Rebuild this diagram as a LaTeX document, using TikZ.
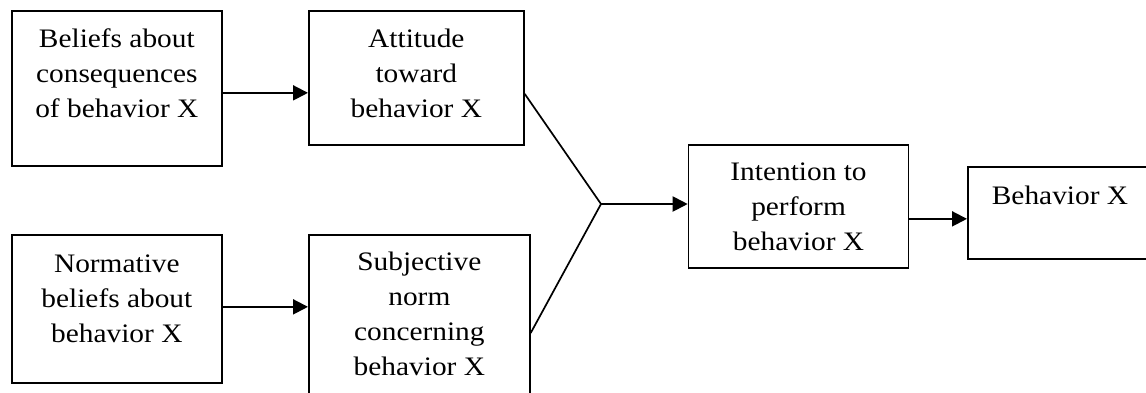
\documentclass[tikz,border=0pt]{standalone}
\usepackage{fontspec}
\setmainfont{Liberation Serif}[FakeStretch=1.1]
\usetikzlibrary{arrows.meta,calc}
\tikzset{
  box/.style={draw, line width=1.7pt, rectangle, inner sep=0pt, anchor=north west},
  txt/.style={align=center, inner sep=0pt, anchor=base, font=\fontsize{26.7pt}{35pt}\selectfont},
  arr/.style={line width=2pt, -{Triangle[length=15pt,width=15pt]}},
  ln/.style={line width=1.7pt}
}
\begin{document}
\begin{tikzpicture}[x=1pt,y=-1pt]
\useasboundingbox (0,0) rectangle (1146,392);
\clip (0,0) rectangle (1146,392);
\fill[white] (0,0) rectangle (1146,392);
% boxes
\node[box, minimum width=210pt, minimum height=155pt] (b1) at (11,10) {};
\node[box, minimum width=215pt, minimum height=134pt] (b2) at (308,10) {};
\node[box, minimum width=210pt, minimum height=148pt] (b3) at (11,234) {};
\node[box, minimum width=221pt, minimum height=180pt] (b4) at (308,234) {};
\node[box, minimum width=220pt, minimum height=123pt] (b5) at (687.7,144) {};
\node[box, minimum width=190pt, minimum height=92pt] (b6) at (967,166) {};
% texts (anchored at the baseline of the last line)
\node[txt] (t1) at ($(b1.north)+(0,107)$) {Beliefs about\\consequences\\of behavior X};
\node[txt] (t2) at ($(b2.north)+(0,107)$) {Attitude\\toward\\behavior X};
\node[txt] (t3) at ($(b3.north)+(0,108)$) {Normative\\beliefs about\\behavior X};
\node[txt] (t4) at ($(b4.north)+(0,141)$) {Subjective\\norm\\concerning\\behavior X};
\node[txt] (t5) at ($(b5.north)+(0,106)$) {Intention to\\perform\\behavior X};
\node[txt] (t6) at (1060,204) {Behavior X};
% connectors
\coordinate (j) at (601,204);
\coordinate (a1) at ($(b1.east)+(0,4.5)$);
\coordinate (a2) at ($(b3.east)+(0,-2)$);
\coordinate (a4) at ($(b5.east)+(0,12.5)$);
\coordinate (l1) at ($(b2.east)+(0,16)$);
\coordinate (l2) at ($(b4.north east)+(0,99)$);
\draw[arr] (a1) -- (a1 -| b2.west);
\draw[arr] (a2) -- (a2 -| b4.west);
\draw[ln] (l1) -- (j);
\draw[ln] (l2) -- (j);
\draw[arr] (j) -- (j -| b5.west);
\draw[arr] (a4) -- (a4 -| b6.west);
\end{tikzpicture}
\end{document}
